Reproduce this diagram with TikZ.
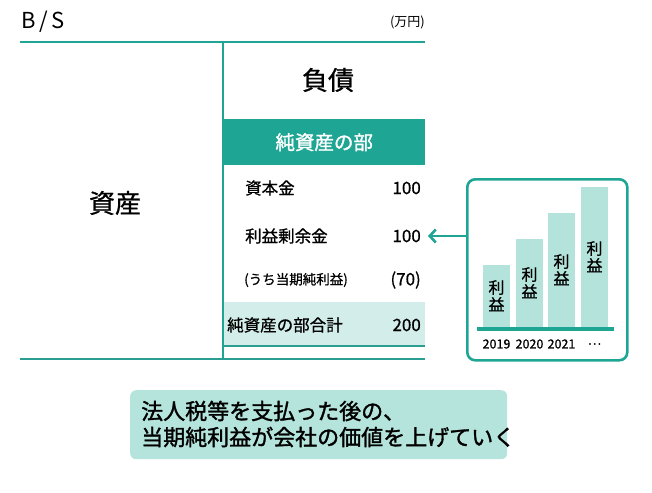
\documentclass[tikz,border=0pt]{standalone}
\usepackage{fontspec}
\usetikzlibrary{arrows.meta}
\newfontfamily\cjk[FakeBold=0.8]{Noto Sans CJK JP}
\newfontfamily\cjkthin{Noto Sans CJK JP}
\newfontfamily\cjkb[FakeBold=1.5]{Noto Sans CJK JP}
\definecolor{teal1}{HTML}{1FA594}
\definecolor{tealline}{HTML}{2A9E93}
\definecolor{barfill}{HTML}{B3E3DB}
\definecolor{rowfill}{HTML}{D3EEEA}
\definecolor{boxfill}{HTML}{B5E4DC}
\tikzset{
  mainline/.style={draw=teal1, line width=2.6pt},
  lbl/.style={font=\cjk\fontsize{16.5}{18}\selectfont, inner sep=0pt},
  num/.style={font=\cjk\fontsize{17}{18}\selectfont, inner sep=0pt, anchor=east},
  bigl/.style={font=\cjk\fontsize{26}{28}\selectfont, inner sep=0pt},
  barbox/.style={fill=barfill, draw=none, minimum width=27pt, anchor=south, inner sep=0pt,
    font=\cjk\fontsize{16}{17}\selectfont, align=center},
  yr/.style={font=\cjk\fontsize{12.5}{14}\selectfont, inner sep=0pt},
}
\begin{document}
\begin{tikzpicture}[x=1pt,y=-1pt]
\useasboundingbox (0,0) rectangle (652,492);
% header texts
\node[font=\cjkthin\fontsize{22}{24}\selectfont, inner sep=0pt, anchor=west] (bs) at (21,22) {B\,/\,S};
\node[font=\cjkthin\fontsize{13}{14}\selectfont, inner sep=0pt, anchor=east] (unit) at (425,22) {(万円)};
% frame coordinates
\coordinate (tl) at (20,42);
\coordinate (tr) at (425,42);
\coordinate (vt) at (223,42);
\coordinate (vb) at (223,359);
\coordinate (bl) at (20,359);
\coordinate (br) at (425,359);
% header band
\node[fill=teal1, minimum width=202pt, minimum height=46pt, inner sep=0pt, anchor=north west,
  text=white, font=\cjkb\fontsize{19.5}{22}\selectfont] (nahead) at (223,119) {純資産の部};
% total row
\node[fill=rowfill, minimum width=202pt, minimum height=44pt, inner sep=0pt, anchor=north west] (totrow) at (223,302) {};
\draw[draw=tealline, line width=2pt] (totrow.south west) -- (totrow.south east);
% lines
\draw[mainline] (tl) -- (tr);
\draw[mainline] (vt) -- (vb);
\draw[draw=tealline, line width=2.6pt] (bl) -- (br);
% big labels
\node[bigl] (fusai) at (328,80) {負債};
\node[bigl] (shisan) at (115,203) {資産};
% rows
\node[lbl, anchor=west] (r1) at (245,188) {資本金};
\node[num] (n1) at (421,188) {100};
\node[lbl, anchor=west] (r2) at (245,236) {利益剰余金};
\node[num] (n2) at (421,236) {100};
\node[lbl, anchor=west, font=\cjk\fontsize{13.5}{16}\selectfont] (r3) at (244,280) {(うち当期純利益)};
\node[num] (n3) at (421,280) {(70)};
\node[lbl, anchor=west, font=\cjk\fontsize{16.5}{18}\selectfont] (r4) at (227,325) {純資産の部合計};
\node[num] (n4) at (421,325) {200};
% right panel
\node[draw=teal1, line width=2.6pt, rounded corners=8pt, minimum width=160pt, minimum height=181pt,
  anchor=north west, inner sep=0pt] (panel) at (466,178) {};
\node[barbox, minimum height=62pt] (b1) at (496.5,327) {利\\益};
\node[barbox, minimum height=88pt] (b2) at (529.5,327) {利\\益};
\node[barbox, minimum height=114pt] (b3) at (561.5,327) {利\\益};
\node[barbox, minimum height=140pt] (b4) at (594.5,327) {利\\益};
\coordinate (axl) at (477,329);
\coordinate (axr) at (614,329);
\draw[draw=teal1, line width=4pt] (axl) -- (axr);
\node[yr] (y1) at (496.5,344) {2019};
\node[yr] (y2) at (529.5,344) {2020};
\node[yr] (y3) at (561.5,344) {2021};
\node[yr] (y4) at (594.5,344) {⋯};
% arrow
\coordinate (arrend) at (428,236);
\draw[draw=teal1, line width=2.6pt, -{Straight Barb[length=6pt,width=13pt]}] (panel.west |- arrend) -- (arrend);
% bottom message box
\node[fill=boxfill, rounded corners=6pt, minimum width=377pt, minimum height=69pt, anchor=north west, inner sep=0pt] (msgbox) at (130,390) {};
\node[font=\cjkb\fontsize{22}{25}\selectfont, inner sep=0pt, anchor=west] (m1) at (141,411) {法人税等を支払った後の、};
\node[font=\cjkb\fontsize{22}{25}\selectfont, inner sep=0pt, anchor=west] (m2) at (141,437) {当期純利益が会社の価値を上げていく};
\end{tikzpicture}
\end{document}
